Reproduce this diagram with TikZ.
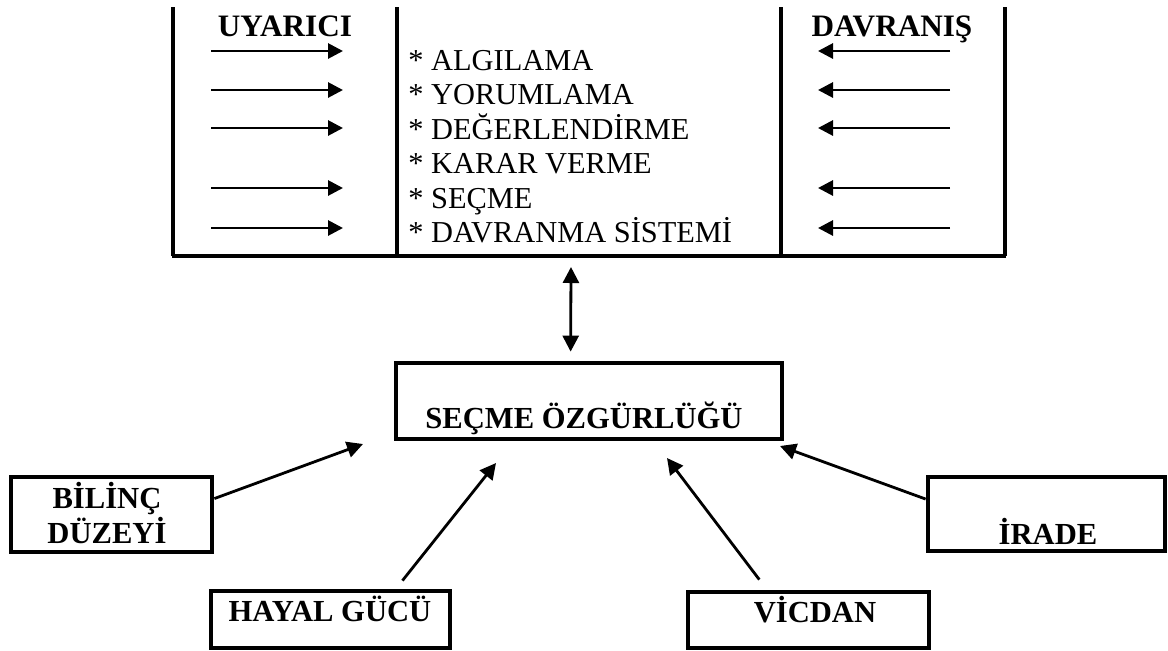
\documentclass[tikz,border=0pt]{standalone}
\usepackage{fontspec}
\setmainfont{Liberation Serif}
\usetikzlibrary{arrows.meta,calc}
\begin{document}
\begin{tikzpicture}[x=0.5pt,y=-0.5pt,
  rule/.style={line width=1.6pt},
  flow/.style={line width=1.45pt,-{Triangle[length=7.5pt,width=7.5pt]}},
  link/.style={line width=1.4pt,-{Triangle[length=8pt,width=8pt]}},
  both/.style={line width=1.4pt,{Triangle[length=8pt,width=8pt]}-{Triangle[length=8pt,width=8pt]}},
  box/.style={draw,line width=2.4pt,rectangle,inner sep=0pt},
  item/.style={anchor=base west,inner sep=0pt,font=\fontsize{15.2}{18}\selectfont},
  head/.style={anchor=base,inner sep=0pt,font=\bfseries\fontsize{15.6}{18}\selectfont},
  lbl/.style={anchor=base,inner sep=0pt,align=center,font=\bfseries\fontsize{15.3}{17.5}\selectfont}]
\useasboundingbox (0,0) rectangle (1168,650);

% process table: three columns, open at the top
\draw[rule] (173,7) -- (173,256) (397,7) -- (397,256)
            (781,7) -- (781,256) (1005,7) -- (1005,256);
\draw[rule] (172,256) -- (1006,256);
\coordinate (tablebottom) at (571,256);

\node[head] (uyarici) at (285,36) {UYARICI};
\node[head] (davranis) at (892,36) {DAVRANIŞ};

% stimulus arrows (in) and behaviour arrows (back)
\foreach \y [count=\i] in {51,90,128,188,228} {
  \coordinate (inA\i) at (211,\y);  \coordinate (inB\i) at (343,\y);
  \coordinate (bkA\i) at (950,\y);  \coordinate (bkB\i) at (818,\y);
  \draw[flow] (inA\i) -- (inB\i);
  \draw[flow] (bkA\i) -- (bkB\i);
}

% process steps
\node[item] (s1) at (408,70)    {* ALGILAMA};
\node[item] (s2) at (408,104.5) {* YORUMLAMA};
\node[item] (s3) at (408,139)   {* DEĞERLENDİRME};
\node[item] (s4) at (408,173.5) {* KARAR VERME};
\node[item] (s5) at (408,208)   {* SEÇME};
\node[item] (s6) at (408,242.5) {* DAVRANMA SİSTEMİ};

% central box
\node[box,minimum width=193pt,minimum height=38pt] (secme) at (589,401) {};
\node[lbl] (secmeT) at (584,428) {SEÇME ÖZGÜRLÜĞÜ};

% factor boxes
\node[box,minimum width=100.5pt,minimum height=37.5pt] (bil) at (111.5,514.5) {};
\node[lbl] (bilT) at (107,543) {BİLİNÇ\\DÜZEYİ};
\node[box,minimum width=119.5pt,minimum height=28.5pt] (hay) at (330.5,619.5) {};
\node[lbl] (hayT) at (330,621) {HAYAL GÜCÜ};
\node[box,minimum width=120.5pt,minimum height=28pt] (vic) at (808.5,620) {};
\node[lbl] (vicT) at (815,622) {VİCDAN};
\node[box,minimum width=118.5pt,minimum height=37pt] (ira) at (1046.5,514) {};
\node[lbl] (iraT) at (1048,544) {İRADE};

% link between the table and the central box
\draw[both] ($(tablebottom)+(0,11)$) -- ($(secme.north west)!0.453!(secme.north east)+(0,-9)$);

% influences pointing at the central box
\coordinate (bilTip) at (363,444);
\coordinate (hayTip) at (496,463);
\coordinate (vicTip) at (667,458);
\coordinate (iraTip) at (780,446);
\draw[link] ($(bil.north east)!0.3!(bil.south east)$) -- (bilTip);
\draw[link] ($(hay.north west)!0.795!(hay.north east)+(0,-8)$) -- (hayTip);
\draw[link] ($(vic.north west)!0.3!(vic.north east)+(0,-10)$) -- (vicTip);
\draw[link] ($(ira.north west)!0.31!(ira.south west)$) -- (iraTip);
\end{tikzpicture}
\end{document}
